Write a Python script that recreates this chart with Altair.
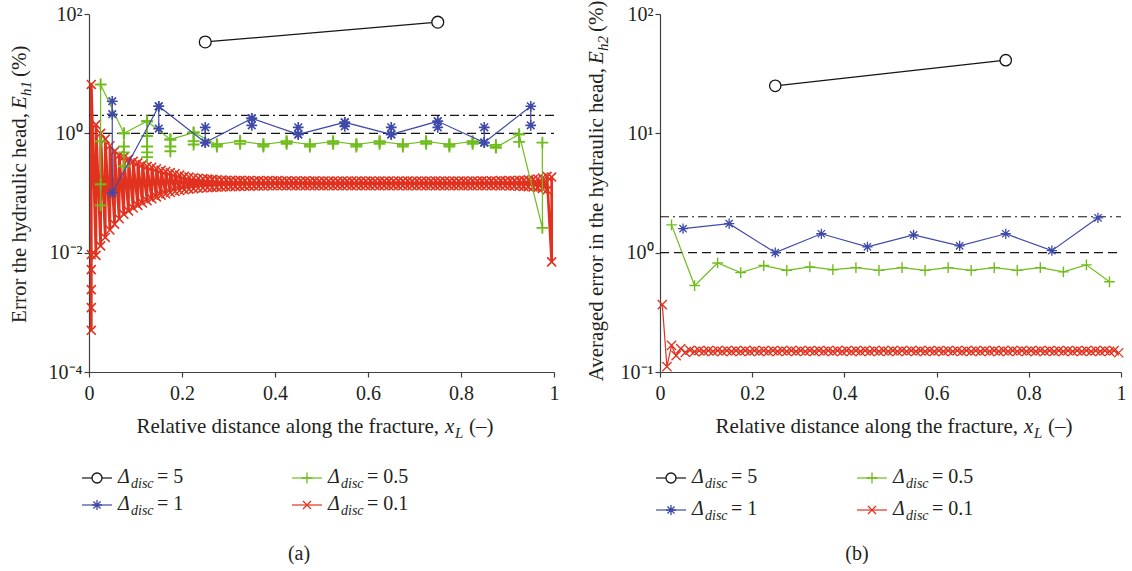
import altair as alt
import pandas as pd

FONT = "Liberation Serif"
TXT = "#231f20"
C_BLACK = "#151515"
C_BLUE = "#3f4aa8"
C_GREEN = "#6fbd1c"
C_RED = "#e1321f"
C_AXIS = "#404040"

SHAPE_ASTER = "M-1,0L1,0M0,-1L0,1M-0.71,-0.71L0.71,0.71M-0.71,0.71L0.71,-0.71"
SHAPE_PLUS = "M-1,0L1,0M0,-1L0,1"
SHAPE_X = "M-1,-1L1,1M-1,1L1,-1"

# ---------------- data ----------------
legend_labels = ["5", "1", "0.5", "0.1"]

xc_5 = [0.25, 0.75]
xc_1 = [0.05, 0.15, 0.25, 0.35, 0.45, 0.55, 0.65, 0.75, 0.85, 0.95]
xc_05 = [0.025, 0.075, 0.125, 0.175, 0.225, 0.275, 0.325, 0.375, 0.425, 0.475,
         0.525, 0.575, 0.625, 0.675, 0.725, 0.775, 0.825, 0.875, 0.925, 0.975]
xc_01 = [0.005, 0.015, 0.025, 0.035, 0.045, 0.055, 0.065, 0.075, 0.085, 0.095,
         0.105, 0.115, 0.125, 0.135, 0.145, 0.155, 0.165, 0.175, 0.185, 0.195,
         0.205, 0.215, 0.225, 0.235, 0.245, 0.255, 0.265, 0.275, 0.285, 0.295,
         0.305, 0.315, 0.325, 0.335, 0.345, 0.355, 0.365, 0.375, 0.385, 0.395,
         0.405, 0.415, 0.425, 0.435, 0.445, 0.455, 0.465, 0.475, 0.485, 0.495,
         0.505, 0.515, 0.525, 0.535, 0.545, 0.555, 0.565, 0.575, 0.585, 0.595,
         0.605, 0.615, 0.625, 0.635, 0.645, 0.655, 0.665, 0.675, 0.685, 0.695,
         0.705, 0.715, 0.725, 0.735, 0.745, 0.755, 0.765, 0.775, 0.785, 0.795,
         0.805, 0.815, 0.825, 0.835, 0.845, 0.855, 0.865, 0.875, 0.885, 0.895,
         0.905, 0.915, 0.925, 0.935, 0.945, 0.955, 0.965, 0.975, 0.985, 0.995]

# panel (a): point-wise error E_h1 (%)
a_d5 = [34.0, 73.0]
a_d1 = [[3.45, 2.09, 0.10], [2.84, 1.20, 2.84], [0.70, 1.26, 0.70], [1.78, 1.36, 1.78],
        [0.96, 1.26, 0.96], [1.53, 1.31, 1.53], [0.96, 1.26, 0.96], [1.59, 1.26, 1.59],
        [0.70, 1.26, 0.70], [2.84, 1.36]]
a_d05 = [[0.062, 0.14, 0.73, 6.6], [1.0, 0.6, 0.48, 0.28, 1.0], [1.59, 0.9, 0.6, 0.48, 0.4, 1.59],
         [0.79, 0.6, 0.5, 0.79], [1.03, 0.74, 0.65, 1.03], [0.65, 0.6, 0.65], [0.74, 0.67, 0.74],
         [0.65, 0.6, 0.65], [0.73, 0.67, 0.73], [0.65, 0.6, 0.65], [0.73, 0.67, 0.73],
         [0.65, 0.6, 0.65], [0.73, 0.67, 0.73], [0.65, 0.6, 0.65], [0.73, 0.67, 0.73],
         [0.65, 0.6, 0.65], [0.73, 0.67, 0.73], [0.58, 0.64, 0.58], [0.96, 0.72, 0.96],
         [0.026, 0.70]]
a_d01_hi = [6.6, 1.4, 1.0, 0.80, 0.62, 0.50, 0.43, 0.40, 0.37, 0.34,
            0.32, 0.30, 0.28, 0.27, 0.255, 0.24, 0.23, 0.22, 0.21, 0.20,
            0.19, 0.185, 0.18, 0.177, 0.174, 0.171, 0.169, 0.167, 0.165, 0.164,
            0.163, 0.162, 0.163, 0.161, 0.162, 0.160, 0.162, 0.160, 0.161, 0.160,
            0.161, 0.159, 0.160, 0.159, 0.160, 0.159, 0.160, 0.158, 0.160, 0.158,
            0.159, 0.158, 0.159, 0.158, 0.159, 0.158, 0.159, 0.158, 0.159, 0.158,
            0.159, 0.158, 0.159, 0.158, 0.159, 0.158, 0.159, 0.158, 0.159, 0.158,
            0.159, 0.158, 0.159, 0.158, 0.159, 0.158, 0.159, 0.158, 0.159, 0.158,
            0.159, 0.158, 0.159, 0.158, 0.160, 0.158, 0.160, 0.159, 0.161, 0.160,
            0.162, 0.161, 0.163, 0.164, 0.166, 0.168, 0.172, 0.178, 0.19, 0.185]
a_d01_lo = [0.0005, 0.009, 0.013, 0.018, 0.024, 0.030, 0.037, 0.044, 0.050, 0.056,
            0.062, 0.068, 0.074, 0.080, 0.086, 0.092, 0.097, 0.102, 0.106, 0.110,
            0.113, 0.116, 0.118, 0.120, 0.122, 0.123, 0.124, 0.125, 0.126, 0.127,
            0.128, 0.129, 0.129, 0.130, 0.130, 0.131, 0.131, 0.131, 0.132, 0.132,
            0.132, 0.133, 0.132, 0.133, 0.132, 0.133, 0.132, 0.133, 0.132, 0.133,
            0.132, 0.133, 0.132, 0.133, 0.132, 0.133, 0.132, 0.133, 0.132, 0.133,
            0.132, 0.133, 0.132, 0.133, 0.132, 0.133, 0.132, 0.133, 0.132, 0.133,
            0.132, 0.133, 0.132, 0.133, 0.132, 0.133, 0.132, 0.133, 0.132, 0.133,
            0.132, 0.133, 0.132, 0.133, 0.132, 0.133, 0.132, 0.133, 0.132, 0.133,
            0.131, 0.131, 0.130, 0.129, 0.128, 0.126, 0.123, 0.119, 0.112, 0.007]
a_d01_first_extra = [0.0012, 0.0024, 0.0052, 0.0093]

# panel (b): averaged error E_h2 (%)
b_d5 = [25.0, 41.0]
b_d1 = [1.59, 1.75, 1.00, 1.44, 1.12, 1.41, 1.14, 1.44, 1.04, 1.96]
b_d05 = [1.71, 0.53, 0.82, 0.68, 0.78, 0.71, 0.76, 0.72, 0.75, 0.71,
         0.75, 0.71, 0.75, 0.71, 0.75, 0.71, 0.75, 0.69, 0.79, 0.57]
b_d01 = [0.367, 0.111, 0.167, 0.137, 0.157, 0.146, 0.152, 0.148, 0.151, 0.149,
         0.151, 0.149, 0.151, 0.149, 0.151, 0.149, 0.151, 0.149, 0.151, 0.149,
         0.151, 0.149, 0.151, 0.149, 0.151, 0.149, 0.151, 0.149, 0.151, 0.149,
         0.151, 0.149, 0.151, 0.149, 0.151, 0.149, 0.151, 0.149, 0.151, 0.149,
         0.151, 0.149, 0.151, 0.149, 0.151, 0.149, 0.151, 0.149, 0.151, 0.149,
         0.151, 0.149, 0.151, 0.149, 0.151, 0.149, 0.151, 0.149, 0.151, 0.149,
         0.151, 0.149, 0.151, 0.149, 0.151, 0.149, 0.151, 0.149, 0.151, 0.149,
         0.151, 0.149, 0.151, 0.149, 0.151, 0.149, 0.151, 0.149, 0.151, 0.149,
         0.151, 0.149, 0.151, 0.149, 0.151, 0.149, 0.151, 0.149, 0.151, 0.149,
         0.151, 0.149, 0.151, 0.149, 0.151, 0.149, 0.151, 0.149, 0.151, 0.145]

ref_dash = [1.0]
ref_dashdot = [2.0]
x_ticks = [0, 0.2, 0.4, 0.6, 0.8, 1]


# ---------------- helpers ----------------
def seq_df(xs, nested):
    xx, yy = [], []
    for x, vals in zip(xs, nested):
        for v in vals:
            xx.append(x)
            yy.append(v)
    return pd.DataFrame({"x": xx, "y": yy, "i": list(range(len(xx)))})


def flat_df(xs, ys):
    return pd.DataFrame({"x": xs, "y": ys, "i": list(range(len(xs)))})


DUMMY = pd.DataFrame({"d": [0]})


def txt(s, x, y, size=20, style="normal", align="left", angle=0):
    return alt.Chart(DUMMY).mark_text(
        text=s, font=FONT, fontSize=size, fontStyle=style, align=align,
        baseline="alphabetic", angle=angle, color=TXT
    ).encode(x=alt.value(x), y=alt.value(y))


def disc_label(x0, yb, value):
    return [
        txt("\u0394", x0, yb, 20, "italic"),
        txt("disc", x0 + 13, yb + 5, 14, "italic"),
        txt("= " + value, x0 + 39, yb, 20),
    ]


def legend_entry(x0, yc, color, shape, size, value, circle=False):
    rule = alt.Chart(DUMMY).mark_rule(color=color, strokeWidth=1.2).encode(
        x=alt.value(x0), x2=alt.value(x0 + 30), y=alt.value(yc))
    if circle:
        pt = alt.Chart(DUMMY).mark_point(shape="circle", filled=True, fill="white", stroke=color,
                                         strokeWidth=1.3, size=size, opacity=1).encode(
            x=alt.value(x0 + 15), y=alt.value(yc))
    else:
        pt = alt.Chart(DUMMY).mark_point(shape=shape, filled=False, color=color,
                                         strokeWidth=1.3, size=size, opacity=1).encode(
            x=alt.value(x0 + 15), y=alt.value(yc))
    return [rule, pt] + disc_label(x0 + 36, yc + 5, value)


def build_panel(W, H, ydom, yvals, yexpr, series, extra):
    xenc = alt.X("x:Q", scale=alt.Scale(domain=[0, 1], nice=False, zero=False),
                 axis=alt.Axis(values=x_ticks, title=None, grid=False, tickSize=5,
                               tickColor=C_AXIS, domainColor=C_AXIS, domainWidth=1.2, tickWidth=1.2,
                               labelFont=FONT, labelFontSize=20, labelColor=TXT, labelPadding=6,
                               labelFlush=False,
                               labelExpr="datum.value == 0 ? '0' : datum.value == 1 ? '1' : format(datum.value, '.1f')"))
    yenc = alt.Y("y:Q", scale=alt.Scale(type="log", domain=ydom, nice=False),
                 axis=alt.Axis(values=yvals, title=None, grid=False, tickSize=5,
                               tickColor=C_AXIS, domainColor=C_AXIS, domainWidth=1.2, tickWidth=1.2,
                               labelFont=FONT, labelFontSize=20, labelColor=TXT, labelPadding=2,
                               labelFlush=False, labelExpr=yexpr))
    layers = []
    for yv, dash in ((ref_dash, [9, 5]), (ref_dashdot, [9, 4, 2, 4])):
        rdf = pd.DataFrame({"x": [0.0] * len(yv), "x2": [1.0] * len(yv), "y": yv})
        layers.append(alt.Chart(rdf).mark_rule(color=C_BLACK, strokeWidth=1.1, strokeDash=dash)
                      .encode(x=xenc, x2=alt.X2("x2:Q"), y=yenc))
    for s in series:
        base = alt.Chart(s["df"]).encode(x=xenc, y=yenc)
        layers.append(base.mark_line(color=s["color"], strokeWidth=s["lw"], clip=True)
                      .encode(order="i:Q"))
        if s.get("circle"):
            layers.append(base.mark_point(shape="circle", filled=True, fill="white", stroke=s["color"],
                                          strokeWidth=1.3, size=s["size"], opacity=1))
        else:
            layers.append(base.mark_point(shape=s["shape"], filled=False, color=s["color"],
                                          strokeWidth=s["pw"], size=s["size"], opacity=1))
    layers += extra
    return alt.layer(*layers).properties(width=W, height=H)


# ---------------- panel (a) ----------------
a_red_nested = []
for k, (lo, hi) in enumerate(zip(a_d01_lo, a_d01_hi)):
    vals = [lo] + (a_d01_first_extra if k == 0 else []) + [hi]
    a_red_nested.append(vals)

series_a = [
    dict(df=seq_df(xc_01, a_red_nested), color=C_RED, shape=SHAPE_X, size=80, lw=2.7, pw=1.6),
    dict(df=seq_df(xc_05, a_d05), color=C_GREEN, shape=SHAPE_PLUS, size=140, lw=1.2, pw=1.9),
    dict(df=seq_df(xc_1, a_d1), color=C_BLUE, shape=SHAPE_ASTER, size=115, lw=1.2, pw=1.6),
    dict(df=flat_df(xc_5, a_d5), color=C_BLACK, shape="circle", size=140, lw=1.2, circle=True),
]

extra_a = []
# x title
extra_a += [txt("Relative distance along the fracture,", 350, 419, 21, align="right"),
            txt("x", 356, 419, 21, "italic"),
            txt("L", 366, 424, 15, "italic"),
            txt("(\u2013)", 380, 419, 21)]
# y title
extra_a += [txt("Error the hydraulic head,", -63, 99, 21, align="right", angle=270),
            txt("E", -63, 95, 21, "italic", angle=270),
            txt("h1", -58, 82, 15, "italic", angle=270),
            txt("(%)", -63, 63, 21, angle=270)]
# legend
extra_a += legend_entry(-7, 464, C_BLACK, "circle", 100, legend_labels[0], circle=True)
extra_a += legend_entry(-7, 491, C_BLUE, SHAPE_ASTER, 100, legend_labels[1])
extra_a += legend_entry(203, 464, C_GREEN, SHAPE_PLUS, 120, legend_labels[2])
extra_a += legend_entry(203, 491, C_RED, SHAPE_X, 64, legend_labels[3])
extra_a += [txt("(a)", 210, 546, 20, align="center")]

yexpr_a = ("datum.value > 50 ? '10\u00b2' : datum.value > 0.5 ? '10\u2070' : "
           "datum.value > 0.005 ? '10\u207b\u00b2' : '10\u207b\u2074'")
panel_a = build_panel(465, 358, [1e-4, 1e2], [1e-4, 1e-2, 1, 1e2], yexpr_a, series_a, extra_a)

# ---------------- panel (b) ----------------
series_b = [
    dict(df=flat_df(xc_01, b_d01), color=C_RED, shape=SHAPE_X, size=85, lw=1.2, pw=1.3),
    dict(df=flat_df(xc_05, b_d05), color=C_GREEN, shape=SHAPE_PLUS, size=115, lw=1.2, pw=1.4),
    dict(df=flat_df(xc_1, b_d1), color=C_BLUE, shape=SHAPE_ASTER, size=105, lw=1.2, pw=1.3),
    dict(df=flat_df(xc_5, b_d5), color=C_BLACK, shape="circle", size=130, lw=1.3, circle=True),
]
extra_b = []
extra_b += [txt("Relative distance along the fracture,", 358, 419, 21, align="right"),
            txt("x", 364, 419, 21, "italic"),
            txt("L", 374, 424, 15, "italic"),
            txt("(\u2013)", 388, 419, 21)]
extra_b += [txt("Averaged error in the hydraulic head,", -57, 54, 21, align="right", angle=270),
            txt("E", -57, 50, 21, "italic", angle=270),
            txt("h2", -52, 37, 15, "italic", angle=270),
            txt("(%)", -57, 18, 21, angle=270)]
extra_b += legend_entry(-4, 464, C_BLACK, "circle", 100, legend_labels[0], circle=True)
extra_b += legend_entry(-4, 496, C_BLUE, SHAPE_ASTER, 100, legend_labels[1])
extra_b += legend_entry(197, 464, C_GREEN, SHAPE_PLUS, 120, legend_labels[2])
extra_b += legend_entry(197, 496, C_RED, SHAPE_X, 64, legend_labels[3])
extra_b += [txt("(b)", 197, 546, 20, align="center")]

yexpr_b = ("datum.value > 50 ? '10\u00b2' : datum.value > 5 ? '10\u00b9' : "
           "datum.value > 0.5 ? '10\u2070' : '10\u207b\u00b9'")
panel_b = build_panel(461, 358, [1e-1, 1e2], [1e-1, 1, 10, 1e2], yexpr_b, series_b, extra_b)

chart = alt.hconcat(panel_a, panel_b, spacing=106, bounds="flush").properties(
    padding={"left": 9, "top": 0, "right": 0, "bottom": 0},
    background="white",
).configure_view(strokeWidth=0)

chart.save("out.html", embed_options={"renderer": "svg", "actions": False})
